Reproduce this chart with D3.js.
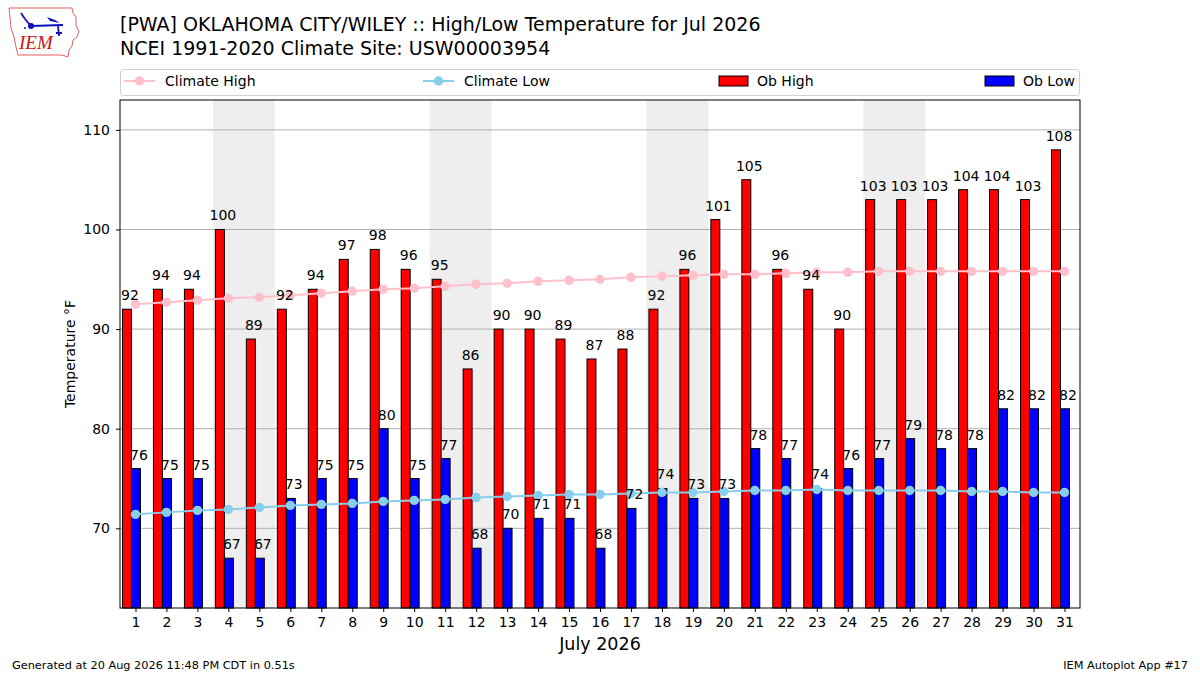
<!DOCTYPE html>
<html>
<head>
<meta charset="utf-8">
<script src="https://cdn.jsdelivr.net/npm/d3@7"></script>
<style>
  body { margin: 0; background: #fff; }
  svg { font-family: "DejaVu Sans", sans-serif; }
</style>
</head>
<body>
<svg width="1200" height="675"></svg>
<script>
var svg_width = 1200;
var svg_height = 675;
var margin = { top: 100, bottom: 67, left: 120, right: 120 };

// data
var days = d3.range(1, 32);
var ob_high = [92, 94, 94, 100, 89, 92, 94, 97, 98, 96, 95, 86, 90, 90, 89, 87,
               88, 92, 96, 101, 105, 96, 94, 90, 103, 103, 103, 104, 104, 103, 108];
var ob_low = [76, 75, 75, 67, 67, 73, 75, 75, 80, 75, 77, 68, 70, 71, 71, 68,
              72, 74, 73, 73, 78, 77, 74, 76, 77, 79, 78, 78, 82, 82, 82];
var climate_high = [92.5, 92.7, 92.9, 93.1, 93.2, 93.4, 93.6, 93.8, 94.0, 94.1, 94.3,
                    94.5, 94.6, 94.8, 94.9, 95.0, 95.2, 95.3, 95.4, 95.5, 95.5, 95.6,
                    95.7, 95.7, 95.8, 95.8, 95.8, 95.8, 95.8, 95.8, 95.8];
var climate_low = [71.4, 71.6, 71.8, 71.9, 72.1, 72.3, 72.4, 72.5, 72.7, 72.8, 72.9,
                   73.1, 73.2, 73.3, 73.4, 73.4, 73.5, 73.6, 73.6, 73.7, 73.8, 73.8,
                   73.9, 73.8, 73.8, 73.8, 73.8, 73.7, 73.7, 73.6, 73.6];
var weekends = [4, 11, 18, 25]; // saturdays, shaded with the sunday after
var y_ticks = [70, 80, 90, 100, 110];

var plot_width = svg_width - margin.left - margin.right;
var bottom = svg_height - margin.bottom;
var fs = 14; // matplotlib-ish default text size

const xscale = d3.scaleLinear().domain([0.5, 31.5]).range([margin.left, margin.left + plot_width]);
const yscale = d3.scaleLinear().domain([62, 113]).range([bottom, margin.top]);

var svg = d3.select("svg");

// weekend shading
svg.append("g").selectAll("rect").data(weekends).enter().append("rect")
    .attr("x", d => xscale(d - 0.5))
    .attr("width", d => xscale(d + 1.5) - xscale(d - 0.5))
    .attr("y", margin.top)
    .attr("height", bottom - margin.top)
    .attr("fill", "#eeeeee");

// grid
svg.append("g").selectAll("line").data(y_ticks).enter().append("line")
    .attr("x1", margin.left).attr("x2", margin.left + plot_width)
    .attr("y1", d => yscale(d)).attr("y2", d => yscale(d))
    .attr("stroke", "#b0b0b0").attr("stroke-width", 1);

var bw = 0.29;
// bars
svg.append("g").selectAll("rect").data(days).enter().append("rect")
    .attr("x", d => xscale(d - 0.42))
    .attr("width", xscale(bw) - xscale(0))
    .attr("y", (d, i) => yscale(ob_high[i]))
    .attr("height", (d, i) => bottom - yscale(ob_high[i]))
    .attr("fill", "#ff0000").attr("stroke", "#000").attr("stroke-width", 1);
svg.append("g").selectAll("rect").data(days).enter().append("rect")
    .attr("x", d => xscale(d - 0.13))
    .attr("width", xscale(bw) - xscale(0))
    .attr("y", (d, i) => yscale(ob_low[i]))
    .attr("height", (d, i) => bottom - yscale(ob_low[i]))
    .attr("fill", "#0000ff").attr("stroke", "#000").attr("stroke-width", 1);

// climate lines
function climate_line(vals, color) {
    var line = d3.line().x((d, i) => xscale(days[i])).y(d => yscale(d));
    svg.append("path").datum(vals).attr("d", line)
        .attr("fill", "none").attr("stroke", color).attr("stroke-width", 2);
    svg.append("g").selectAll("circle").data(vals).enter().append("circle")
        .attr("cx", (d, i) => xscale(days[i])).attr("cy", d => yscale(d))
        .attr("r", 4.7).attr("fill", color);
}
climate_line(climate_high, "#ffc0cb");
climate_line(climate_low, "#87ceeb");

// value labels
svg.append("g").selectAll("text").data(days).enter().append("text")
    .attr("x", d => xscale(d - 0.42 + bw / 2) + 3)
    .attr("y", (d, i) => yscale(ob_high[i]) - 9)
    .attr("text-anchor", "middle").attr("font-size", fs)
    .text((d, i) => ob_high[i]);
svg.append("g").selectAll("text").data(days).enter().append("text")
    .attr("x", d => xscale(d - 0.13 + bw / 2) + 3)
    .attr("y", (d, i) => yscale(ob_low[i]) - 9)
    .attr("text-anchor", "middle").attr("font-size", fs)
    .text((d, i) => ob_low[i]);

// frame
svg.append("rect").attr("x", margin.left).attr("y", margin.top)
    .attr("width", plot_width).attr("height", bottom - margin.top)
    .attr("fill", "none").attr("stroke", "#000").attr("stroke-width", 1);

// axes
const yAxis = d3.axisLeft(yscale).tickValues(y_ticks).tickSize(4).tickPadding(6);
svg.append("g").attr("transform", `translate(${margin.left},0)`).call(yAxis)
    .call(g => g.select(".domain").remove())
    .selectAll("text").attr("font-size", fs).attr("font-family", "DejaVu Sans").attr("fill", "#000");
const xAxis = d3.axisBottom(xscale).tickValues(days).tickSize(4).tickPadding(5);
svg.append("g").attr("transform", `translate(0,${bottom})`).call(xAxis)
    .call(g => g.select(".domain").remove())
    .selectAll("text").attr("font-size", fs).attr("font-family", "DejaVu Sans").attr("fill", "#000");

svg.append("text").attr("x", 600).attr("y", 650).attr("text-anchor", "middle")
    .attr("font-size", 17.5).text("July 2026");
svg.append("text").attr("transform", "translate(75,354) rotate(-90)")
    .attr("text-anchor", "middle").attr("font-size", fs).text("Temperature °F");

// titles
svg.append("text").attr("x", 120).attr("y", 31).attr("font-size", 19)
    .text("[PWA] OKLAHOMA CITY/WILEY :: High/Low Temperature for Jul 2026");
svg.append("text").attr("x", 120).attr("y", 55).attr("font-size", 19)
    .text("NCEI 1991-2020 Climate Site: USW00003954");

// legend
var legend = svg.append("g");
legend.append("rect").attr("x", 120.5).attr("y", 69.5).attr("width", 959).attr("height", 26)
    .attr("rx", 3).attr("fill", "#fff").attr("stroke", "#d0d0d0");
var leg_line = [{ x: 124, label: "Climate High", color: "#ffc0cb" },
                { x: 423, label: "Climate Low", color: "#87ceeb" }];
leg_line.forEach(function (e) {
    legend.append("line").attr("x1", e.x).attr("x2", e.x + 31).attr("y1", 81).attr("y2", 81)
        .attr("stroke", e.color).attr("stroke-width", 2);
    legend.append("circle").attr("cx", e.x + 15.5).attr("cy", 81).attr("r", 4.7).attr("fill", e.color);
    legend.append("text").attr("x", e.x + 41).attr("y", 86).attr("font-size", fs).text(e.label);
});
var leg_patch = [{ x: 719, label: "Ob High", color: "#ff0000" },
                 { x: 985, label: "Ob Low", color: "#0000ff" }];
leg_patch.forEach(function (e) {
    legend.append("rect").attr("x", e.x).attr("y", 76).attr("width", 29).attr("height", 10)
        .attr("fill", e.color).attr("stroke", "#000");
    legend.append("text").attr("x", e.x + 38).attr("y", 86).attr("font-size", fs).text(e.label);
});

// footer
svg.append("text").attr("x", 12).attr("y", 669).attr("font-size", 11.3).text("Generated at 20 Aug 2026 11:48 PM CDT in 0.51s");
svg.append("text").attr("x", 1188).attr("y", 669).attr("font-size", 11.3).attr("text-anchor", "end").text("IEM Autoplot App #17");

// logo (rough)
var logo = svg.append("g");
logo.append("path")
    .attr("d", "M9,8 L72,8 L73,13 L76,17 L76,26 L79,31 L77,37 L73,40 L72,46 L69,50 L68,57 L62,55 L18,55 L16,47 L14,37 L11,28 L10,18 Z")
    .attr("fill", "none").attr("stroke", "#e06060").attr("stroke-width", 1);
logo.append("text").attr("x", 19).attr("y", 49).attr("font-size", 19)
    .attr("font-family", "Liberation Serif, serif").attr("font-style", "italic")
    .attr("fill", "#d01010").text("IEM");
logo.append("path").attr("d", "M31,26 L63,25 M21,13 L25,19 L31,26 M58,26 L59,36 M56,33 L62,33")
    .attr("stroke", "#1010c0").attr("stroke-width", 1.8).attr("fill", "none");
logo.append("path").attr("d", "M47,17 L55,20 L60,23 L50,21 Z").attr("fill", "#1010c0");
logo.append("circle").attr("cx", 31).attr("cy", 26).attr("r", 3).attr("fill", "#1010c0");
logo.append("circle").attr("cx", 25).attr("cy", 28).attr("r", 1).attr("fill", "#1010c0");
</script>
</body>
</html>
